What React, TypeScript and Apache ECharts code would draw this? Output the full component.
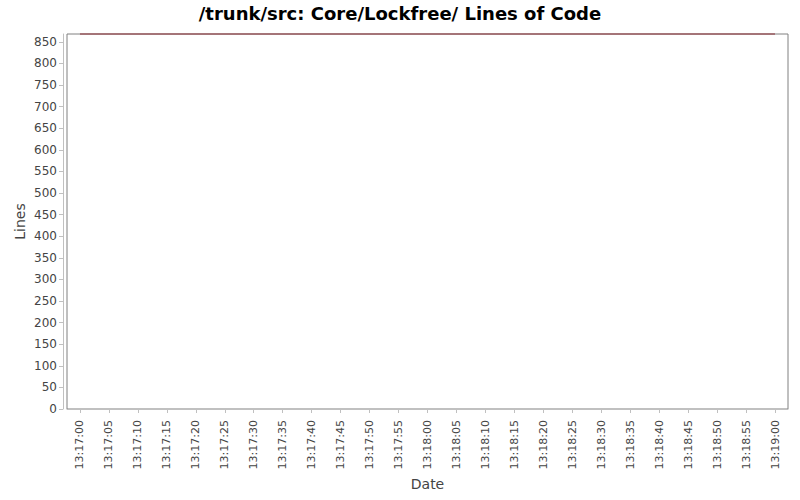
import { useEffect, useRef } from "react";
import * as echarts from "echarts";

const tickLabels = [
  "13:17:00", "13:17:05", "13:17:10", "13:17:15", "13:17:20", "13:17:25", "13:17:30",
  "13:17:35", "13:17:40", "13:17:45", "13:17:50", "13:17:55", "13:18:00", "13:18:05",
  "13:18:10", "13:18:15", "13:18:20", "13:18:25", "13:18:30", "13:18:35", "13:18:40",
  "13:18:45", "13:18:50", "13:18:55", "13:19:00",
];

const pointTimes = ["13:17:00", "13:19:00"];
const pointLines = [868, 868];

const toSeconds = (label: string) => {
  const [h, m, s] = label.split(":").map(Number);
  return h * 3600 + m * 60 + s;
};

const pad = (n: number) => String(n).padStart(2, "0");
const toLabel = (sec: number) => {
  const r = Math.round(sec);
  return `${pad(Math.floor(r / 3600))}:${pad(Math.floor((r % 3600) / 60))}:${pad(r % 60)}`;
};

const FONT = "DejaVu Sans";

export default function App() {
  const chartRef = useRef<HTMLDivElement>(null);

  useEffect(() => {
    if (!chartRef.current) {
      return undefined;
    }
    const chart = echarts.init(chartRef.current, undefined, { renderer: "svg" });
    const tickValues = tickLabels.map(toSeconds);
    const first = tickValues[0];
    const last = tickValues[tickValues.length - 1];

    chart.setOption({
      animation: false,
      backgroundColor: "#ffffff",
      textStyle: { fontFamily: FONT },
      title: {
        text: "/trunk/src: Core/Lockfree/ Lines of Code",
        left: "center",
        top: -1,
        textStyle: { fontFamily: FONT, fontSize: 18, fontWeight: "bold", color: "#000000" },
      },
      grid: {
        left: 67,
        right: 12,
        top: 34,
        bottom: 91,
        show: true,
        borderColor: "#808080",
        borderWidth: 1,
        backgroundColor: "#ffffff",
      },
      xAxis: {
        type: "value",
        min: first - 2.24,
        max: last + 2.24,
        offset: 4,
        name: "Date",
        nameLocation: "middle",
        nameGap: 64,
        nameTextStyle: { fontFamily: FONT, fontSize: 14, color: "#444444" },
        axisLine: { show: true, lineStyle: { color: "#c0c0c0" } },
        axisTick: { show: true, length: 4, customValues: tickValues, lineStyle: { color: "#c0c0c0" } },
        axisLabel: {
          customValues: tickValues,
          rotate: 90,
          margin: 7,
          fontFamily: FONT,
          fontSize: 11,
          color: "#444444",
          formatter: (v: number) => toLabel(v),
        },
        splitLine: { show: false },
      },
      yAxis: {
        type: "value",
        min: 0,
        max: 868,
        interval: 50,
        offset: 4,
        name: "Lines",
        nameLocation: "middle",
        nameGap: 36,
        nameMoveOverlap: false,
        nameTextStyle: { fontFamily: FONT, fontSize: 14, color: "#444444" },
        axisLine: { show: true, lineStyle: { color: "#c0c0c0" } },
        axisTick: { show: true, length: 4, lineStyle: { color: "#c0c0c0" } },
        axisLabel: {
          fontFamily: FONT,
          fontSize: 12,
          color: "#444444",
          margin: 6,
          showMaxLabel: false,
        },
        splitLine: { show: false },
      },
      series: [
        {
          type: "line",
          data: pointTimes.map((t, i) => [toSeconds(t), pointLines[i]]),
          showSymbol: false,
          clip: false,
          lineStyle: { color: "#8a2a33", width: 1 },
          itemStyle: { color: "#8a2a33" },
        },
      ],
    });

    return () => {
      chart.dispose();
    };
  }, []);

  return (
    <div
      ref={chartRef}
      style={{ position: "absolute", left: 0, top: 0, width: 800, height: 500 }}
    />
  );
}
